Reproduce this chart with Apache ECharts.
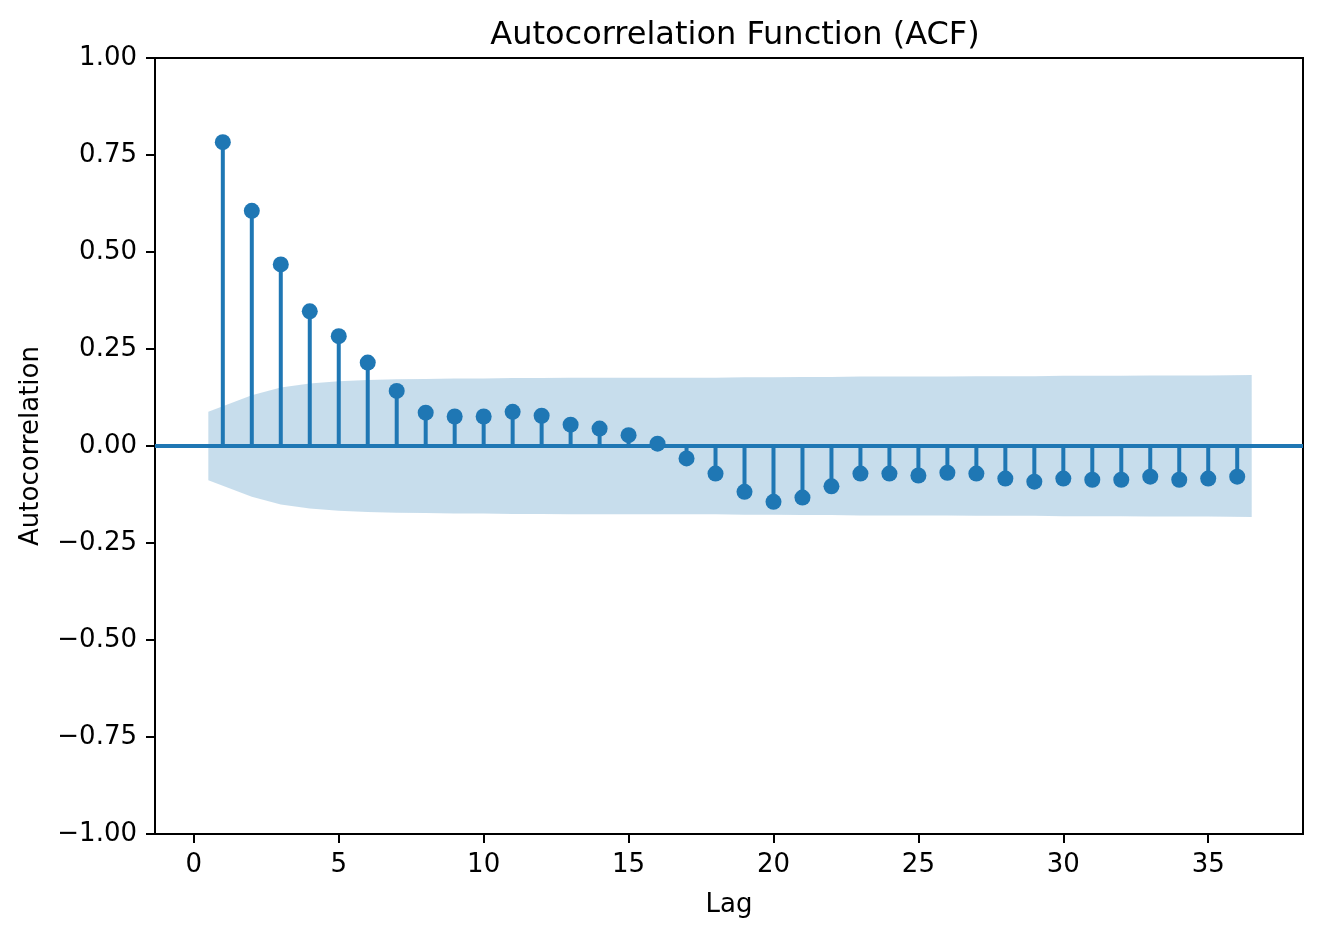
<!DOCTYPE html>
<html>
<head>
<meta charset="utf-8">
<script src="https://cdn.jsdelivr.net/npm/echarts@6/dist/echarts.min.js"></script>
<style>
html,body{margin:0;padding:0;background:#fff;}
#chart{width:1322px;height:936px;}
</style>
</head>
<body>
<div id="chart"></div>
<script>
// ---- data ----
const lags = [1,2,3,4,5,6,7,8,9,10,11,12,13,14,15,16,17,18,19,20,21,22,23,24,25,26,27,28,29,30,31,32,33,34,35,36];
const acfValues = [0.783,0.606,0.468,0.347,0.283,0.215,0.142,0.086,0.076,0.076,0.088,0.078,0.055,0.045,0.028,0.006,
  -0.032,-0.071,-0.118,-0.144,-0.133,-0.104,-0.071,-0.071,-0.076,-0.069,-0.071,-0.084,-0.092,-0.084,-0.087,-0.087,-0.079,-0.087,-0.084,-0.079];
// confidence band half-width (95%) per lag; drawn at x = 0.5, 2..35, 36.5
const bandX = [0.5,2,3,4,5,6,7,8,9,10,11,12,13,14,15,16,17,18,19,20,21,22,23,24,25,26,27,28,29,30,31,32,33,34,35,36.5];
const bandHalf = [0.088,0.131,0.151,0.161,0.167,0.170,0.172,0.173,0.174,0.174,0.175,0.175,0.176,0.176,0.176,0.176,
  0.176,0.176,0.177,0.177,0.178,0.178,0.179,0.179,0.179,0.179,0.180,0.180,0.180,0.181,0.181,0.181,0.182,0.182,0.182,0.183];
const xTicks = [0,5,10,15,20,25,30,35];
const xMin = -1.34, xMax = 38.27;
const yMin = -1, yMax = 1, yStep = 0.25;
const titleText = 'Autocorrelation Function (ACF)';
const xName = 'Lag';
const yName = 'Autocorrelation';

const C = '#1f77b4';
const FONT = 'DejaVu Sans';
const fmtNum = v => (v < 0 ? '\u2212' : '') + Math.abs(v).toFixed(2);

const chart = echarts.init(document.getElementById('chart'), null, {renderer: 'canvas'});

const option = {
  animation: false,
  backgroundColor: '#ffffff',
  title: {
    text: titleText, left: 730, top: 15, textAlign: 'center',
    textStyle: {fontFamily: FONT, fontSize: 32, fontWeight: 'normal', color: '#000'}
  },
  grid: {left: 155, right: 19, top: 58, bottom: 102, show: true, borderColor: '#000', borderWidth: 2, backgroundColor: 'transparent'},
  xAxis: {
    type: 'value', min: xMin, max: xMax,
    name: xName, nameLocation: 'middle', nameGap: 58,
    nameTextStyle: {fontFamily: FONT, fontSize: 26, color: '#000'},
    axisLine: {show: true, onZero: false, lineStyle: {color: '#000', width: 2}},
    axisTick: {show: true, inside: false, length: 9, lineStyle: {color: '#000', width: 2}, customValues: xTicks},
    axisLabel: {fontFamily: FONT, fontSize: 26, color: '#000', margin: 18, customValues: xTicks, formatter: v => String(v)},
    splitLine: {show: false}
  },
  yAxis: {
    type: 'value', min: yMin, max: yMax, interval: yStep,
    name: yName, nameLocation: 'middle', nameGap: 111, nameRotate: 90,
    nameTextStyle: {fontFamily: FONT, fontSize: 26, color: '#000'},
    axisLine: {show: true, onZero: false, lineStyle: {color: '#000', width: 2}},
    axisTick: {show: true, inside: false, length: 9, lineStyle: {color: '#000', width: 2}},
    axisLabel: {fontFamily: FONT, fontSize: 26, color: '#000', margin: 18, formatter: fmtNum},
    splitLine: {show: false}
  },
  series: [
    {
      type: 'custom', name: 'band', z: 1, silent: true,
      data: bandX.map((x, i) => [x, bandHalf[i]]),
      renderItem: function (params, api) {
        if (params.dataIndex !== 0) return null;
        const pts = [];
        for (let i = 0; i < bandX.length; i++) pts.push(api.coord([bandX[i], bandHalf[i]]));
        for (let i = bandX.length - 1; i >= 0; i--) pts.push(api.coord([bandX[i], -bandHalf[i]]));
        return {type: 'polygon', shape: {points: pts}, style: {fill: 'rgba(31,119,180,0.25)', stroke: null}};
      }
    },
    {
      type: 'line', name: 'zero', z: 2, silent: true, symbol: 'none',
      data: [[xMin, 0], [xMax, 0]],
      lineStyle: {color: C, width: 4}
    },
    {
      type: 'custom', name: 'stems', z: 3, silent: true,
      data: lags.map((l, i) => [l, acfValues[i]]),
      renderItem: function (params, api) {
        const a = api.coord([api.value(0), 0]);
        const b = api.coord([api.value(0), api.value(1)]);
        return {type: 'line', shape: {x1: a[0], y1: a[1], x2: b[0], y2: b[1]}, style: {stroke: C, lineWidth: 4}};
      }
    },
    {
      type: 'scatter', name: 'acf', z: 4, silent: true,
      symbol: 'circle', symbolSize: 16,
      itemStyle: {color: C, opacity: 1},
      data: lags.map((l, i) => [l, acfValues[i]])
    }
  ]
};
chart.setOption(option);
</script>
</body>
</html>
